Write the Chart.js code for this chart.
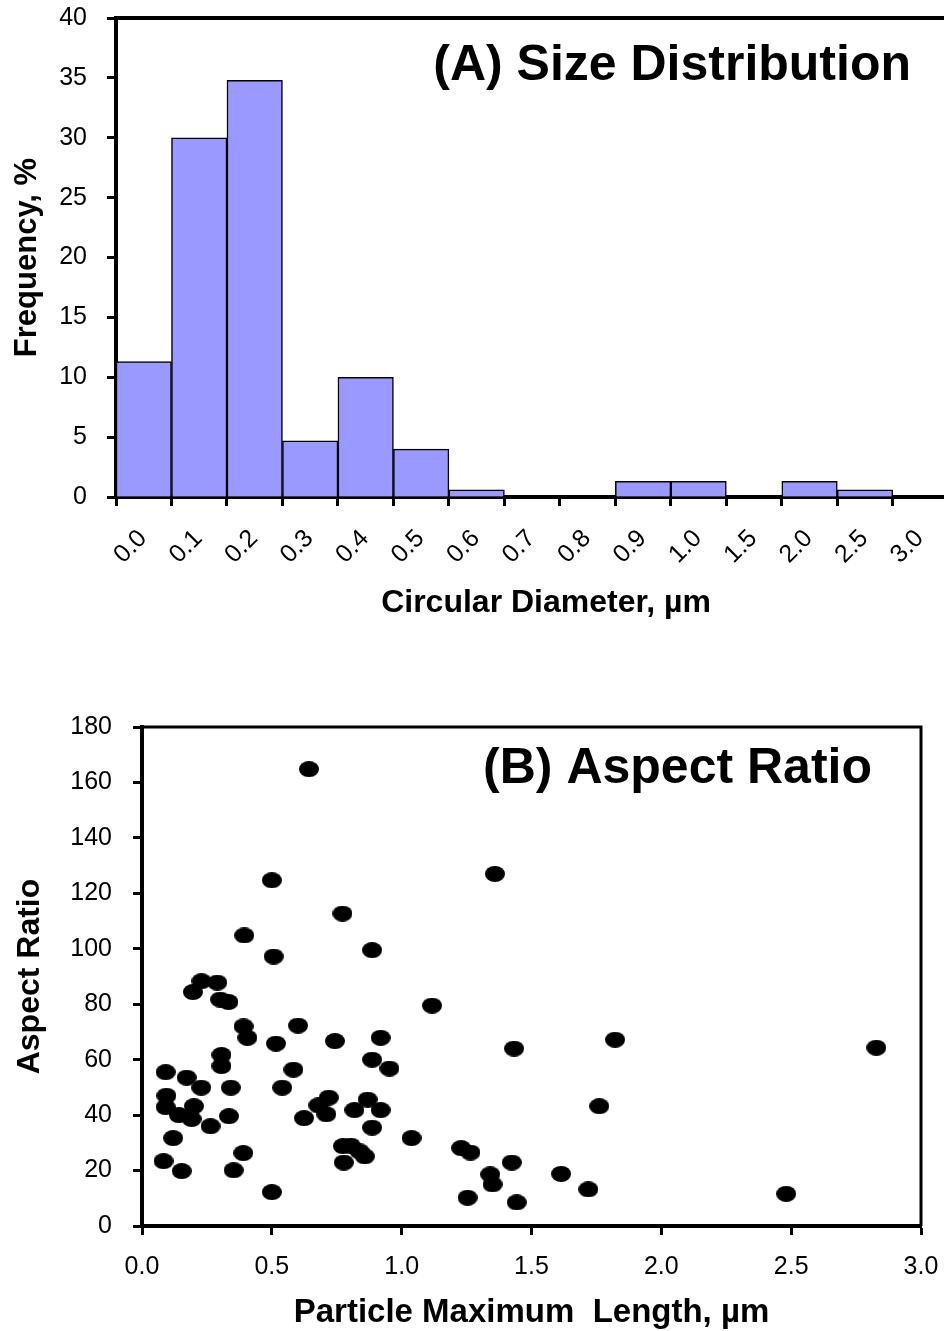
<!DOCTYPE html>
<html>
<head>
<meta charset="utf-8">
<title>Particle size and aspect ratio</title>
<script src="https://cdn.jsdelivr.net/npm/chart.js@4.4.0/dist/chart.umd.min.js"></script>
<style>
  html, body { margin: 0; padding: 0; background: #fff; overflow: hidden; }
  #page { position: relative; width: 944px; height: 1331px; overflow: hidden; }
  #sizeChart { position: absolute; left: 0; top: 0; }
  #aspectChart { position: absolute; left: 0; top: 660px; }
</style>
</head>
<body>
<div id="page">
  <canvas id="sizeChart" width="976" height="650"></canvas>
  <canvas id="aspectChart" width="944" height="690"></canvas>
</div>
<script>
/* globals Chart:false */

// (A) size distribution: bin edges and frequency (%) of each bin
const binLabels = ['0.0', '0.1', '0.2', '0.3', '0.4', '0.5', '0.6', '0.7', '0.8', '0.9', '1.0', '1.5', '2.0', '2.5', '3.0']
const frequency = [11.3, 30.0, 34.8, 4.7, 10.0, 4.0, 0.6, 0, 0, 1.3, 1.3, 0, 1.3, 0.6]

// (B) aspect ratio vs particle maximum length (µm)
const maxLength = [
  0.643, 0.500, 1.359, 0.772, 0.394, 0.886, 0.507, 0.196, 0.229, 0.290,
  0.301, 0.333, 1.117, 0.391, 0.601, 0.406, 0.743, 0.919, 0.516, 1.433,
  0.306, 0.306, 0.886, 0.583, 0.953, 0.091, 0.172, 0.228, 0.342, 0.540,
  0.094, 0.091, 0.719, 0.869, 0.679, 0.200, 0.142, 0.191, 0.264, 0.335,
  0.624, 0.710, 0.818, 0.919, 0.886, 0.120, 1.038, 0.774, 0.804, 0.838,
  0.858, 1.229, 1.265, 0.390, 0.083, 0.777, 1.424, 0.153, 0.353, 1.341,
  1.350, 0.500, 1.254, 1.443, 1.822, 2.828, 1.761, 1.614, 1.719, 2.481
]
const aspectRatio = [
  164.8, 124.7, 127.0, 112.7, 104.8, 99.5, 97.2, 84.4, 88.3, 87.8,
  81.7, 80.8, 79.5, 72.0, 72.3, 67.9, 66.7, 67.9, 65.8, 64.0,
  61.7, 57.7, 60.0, 56.4, 56.8, 55.5, 53.5, 49.9, 49.9, 49.9,
  47.0, 42.9, 46.3, 45.6, 43.5, 43.2, 40.0, 38.6, 36.0, 39.6,
  38.9, 40.3, 41.8, 41.8, 35.5, 31.7, 31.7, 28.8, 29.0, 26.9,
  25.1, 28.1, 26.5, 26.3, 23.4, 22.9, 22.9, 19.8, 20.1, 18.6,
  15.0, 12.2, 10.2, 8.5, 67.2, 64.3, 43.2, 18.8, 13.2, 11.6
]

const sizeTicks = [0, 5, 10, 15, 20, 25, 30, 35, 40]
const aspectTicksY = [0, 20, 40, 60, 80, 100, 120, 140, 160, 180]
const lengthTicks = [0, 0.5, 1.0, 1.5, 2.0, 2.5, 3.0]

Chart.defaults.font.family = '"Liberation Sans", Arial, sans-serif'
Chart.defaults.color = '#000'
Chart.defaults.animation = false

// box round the plot area plus the panel heading
const panelFrame = {
  id: 'panelFrame',
  afterDraw (chart, args, opts) {
    const { ctx, chartArea: a } = chart
    ctx.save()
    ctx.strokeStyle = '#000'
    ctx.lineWidth = opts.lineWidth
    ctx.beginPath()
    ctx.moveTo(a.left, a.top)
    ctx.lineTo(a.right, a.top)
    ctx.lineTo(a.right, a.bottom)
    ctx.stroke()
    ctx.fillStyle = '#000'
    ctx.font = 'bold 50px "Liberation Sans", Arial, sans-serif'
    ctx.textAlign = 'right'
    ctx.textBaseline = 'alphabetic'
    ctx.fillText(opts.text, opts.x, opts.y)
    ctx.restore()
  }
}

const axisLines = {
  drawOnChartArea: false,
  drawTicks: true,
  tickLength: 9,
  tickWidth: 3,
  tickColor: '#000'
}
const axisBorder = { display: true, width: 4, color: '#000' }

// keep the axes from pushing the plot area in
const fixWidth = w => axis => {
  axis.width = w
  axis.paddingTop = 0
  axis.paddingBottom = 0
}
const fixHeight = h => axis => {
  axis.height = h
  axis.paddingLeft = 0
  axis.paddingRight = 0
}

// ---- (A) histogram
new Chart(document.getElementById('sizeChart'), {
  type: 'bar',
  data: {
    datasets: [{
      data: frequency.map((f, i) => ({ x: i + 0.5, y: f })),
      backgroundColor: '#9999ff',
      borderColor: '#000',
      borderWidth: 1.5,
      barPercentage: 1,
      categoryPercentage: 1
    }]
  },
  options: {
    responsive: false,
    layout: { padding: { top: 18, left: 0, right: 0, bottom: 0 } },
    plugins: {
      legend: { display: false },
      tooltip: { enabled: false },
      panelFrame: { text: '(A) Size Distribution', x: 911, y: 80, lineWidth: 4 }
    },
    scales: {
      x: {
        type: 'linear',
        offset: false,
        min: 0,
        max: 15.5,
        afterBuildTicks: axis => { axis.ticks = binLabels.map((_, i) => ({ value: i })) },
        afterFit: fixHeight(153),
        grid: { ...axisLines, offset: false },
        border: axisBorder,
        ticks: {
          autoSkip: false,
          minRotation: 45,
          maxRotation: 45,
          labelOffset: 27,
          padding: 18,
          font: { size: 25 },
          callback: v => binLabels[v]
        },
        title: {
          display: true,
          text: 'Circular Diameter, µm',
          font: { size: 32, weight: 'bold' },
          padding: { top: 0, bottom: 28 }
        }
      },
      y: {
        min: 0,
        max: 40,
        afterBuildTicks: axis => { axis.ticks = sizeTicks.map(v => ({ value: v })) },
        afterFit: fixWidth(116),
        grid: axisLines,
        border: axisBorder,
        ticks: { padding: 20, font: { size: 25 } },
        title: {
          display: true,
          text: 'Frequency, %',
          font: { size: 31, weight: 'bold' },
          padding: { top: 9, bottom: 0 }
        }
      }
    }
  },
  plugins: [panelFrame]
})

// ---- (B) scatter
const dot = document.createElement('canvas')
dot.width = 20
dot.height = 16
const dctx = dot.getContext('2d')
dctx.fillStyle = '#000'
dctx.beginPath()
dctx.ellipse(10, 8, 10, 8, 0, 0, Math.PI * 2)
dctx.fill()

new Chart(document.getElementById('aspectChart'), {
  type: 'scatter',
  data: {
    datasets: [{
      data: maxLength.map((x, i) => ({ x, y: aspectRatio[i] })),
      pointStyle: dot,
      pointRadius: 9,
      backgroundColor: '#000',
      borderColor: '#000'
    }]
  },
  options: {
    responsive: false,
    layout: { padding: { top: 67, left: 0, right: 23, bottom: 0 } },
    plugins: {
      legend: { display: false },
      tooltip: { enabled: false },
      panelFrame: { text: '(B) Aspect Ratio', x: 872, y: 123, lineWidth: 3 }
    },
    scales: {
      x: {
        type: 'linear',
        min: 0,
        max: 3,
        afterBuildTicks: axis => { axis.ticks = lengthTicks.map(v => ({ value: v })) },
        afterFit: fixHeight(124),
        grid: axisLines,
        border: axisBorder,
        ticks: { padding: 17, font: { size: 25 }, callback: v => v.toFixed(1) },
        title: {
          display: true,
          text: 'Particle Maximum  Length, µm',
          font: { size: 33, weight: 'bold' },
          padding: { top: 0, bottom: 17 }
        }
      },
      y: {
        min: 0,
        max: 180,
        afterBuildTicks: axis => { axis.ticks = aspectTicksY.map(v => ({ value: v })) },
        afterFit: fixWidth(142),
        grid: axisLines,
        border: axisBorder,
        ticks: { padding: 21, font: { size: 25 } },
        title: {
          display: true,
          text: 'Aspect Ratio',
          font: { size: 32, weight: 'bold' },
          padding: { top: 11, bottom: 0 }
        }
      }
    }
  },
  plugins: [panelFrame]
})
</script>
</body>
</html>
